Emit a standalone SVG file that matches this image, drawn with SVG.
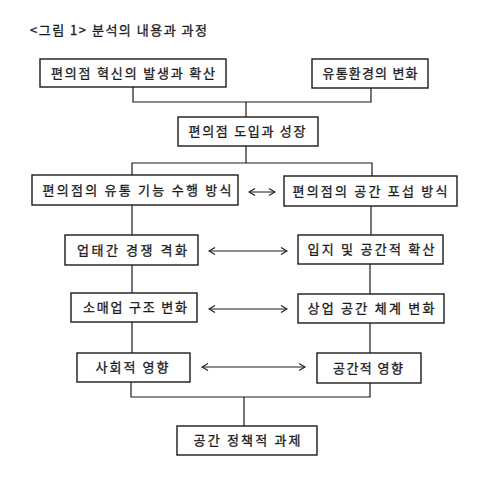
<svg xmlns="http://www.w3.org/2000/svg" width="480" height="490" viewBox="0 0 480 490">
<style>
  .box { fill: #fff; stroke: #1a1a1a; stroke-width: 1.4; }
  .lbl { font-family: "Noto Sans CJK KR", "Noto Sans", sans-serif; font-size: 13px; fill: #1a1a1a; stroke: #1a1a1a; stroke-width: 0.3; text-anchor: middle; }
  .title { font-family: "Noto Sans CJK KR", "Noto Sans", sans-serif; font-size: 13px; fill: #1a1a1a; stroke: #1a1a1a; stroke-width: 0.3; }
  .con { fill: none; stroke: #1a1a1a; stroke-width: 1.2; }
  .arr { fill: none; stroke: #1a1a1a; stroke-width: 1; marker-start: url(#chev); marker-end: url(#chev); }
</style>
<defs>
  <marker id="chev" viewBox="0 0 8 8" refX="7" refY="4" markerWidth="8" markerHeight="8" markerUnits="userSpaceOnUse" orient="auto-start-reverse">
    <path d="M1,0.5 L7,4 L1,7.5" fill="none" stroke="#1a1a1a" stroke-width="1.1"/>
  </marker>
</defs>
<rect width="480" height="490" fill="#fff"/>
<text class="title" x="30" y="35" textLength="177" lengthAdjust="spacing">&lt;그림 1&gt; 분석의 내용과 과정</text>

<g id="connectors">
  <polyline class="con" points="133,87 133,102 371,102 371,88"/>
  <line class="con" x1="246" y1="102" x2="246" y2="117"/>
  <line class="con" x1="246" y1="146" x2="246" y2="163"/>
  <polyline class="con" points="132,175 132,163 372,163 372,176"/>
  <line class="con" x1="132" y1="205" x2="132" y2="235"/>
  <line class="con" x1="371" y1="206" x2="371" y2="235"/>
  <line class="con" x1="132" y1="265" x2="132" y2="293"/>
  <line class="con" x1="370" y1="264" x2="370" y2="294"/>
  <line class="con" x1="132" y1="322" x2="132" y2="353"/>
  <line class="con" x1="370" y1="323" x2="370" y2="353"/>
  <polyline class="con" points="131,382 131,397 370,397 370,383"/>
  <line class="con" x1="244" y1="397" x2="244" y2="426"/>
  <line class="arr" x1="249" y1="192" x2="275" y2="192"/>
  <line class="arr" x1="209" y1="251" x2="287" y2="251"/>
  <line class="arr" x1="209" y1="309" x2="287" y2="309"/>
  <line class="arr" x1="202" y1="367" x2="305" y2="367"/>
</g>

<g id="n1"><rect class="box" x="40" y="59" width="186" height="28"/><text class="lbl" x="133" y="78" textLength="164" lengthAdjust="spacing">편의점 혁신의 발생과 확산</text></g>
<g id="n2"><rect class="box" x="312" y="59" width="116" height="29"/><text class="lbl" x="370" y="78" textLength="95" lengthAdjust="spacing">유통환경의 변화</text></g>
<g id="n3"><rect class="box" x="178" y="117" width="140" height="29"/><text class="lbl" x="247" y="136" textLength="117" lengthAdjust="spacing">편의점 도입과 성장</text></g>
<g id="n4"><rect class="box" x="32" y="175" width="206" height="30"/><text class="lbl" x="137" y="195" textLength="189" lengthAdjust="spacing">편의점의 유통 기능 수행 방식</text></g>
<g id="n5"><rect class="box" x="284" y="176" width="173" height="30"/><text class="lbl" x="370" y="196" textLength="155" lengthAdjust="spacing">편의점의 공간 포섭 방식</text></g>
<g id="n6"><rect class="box" x="65" y="235" width="133" height="30"/><text class="lbl" x="132" y="255" textLength="110" lengthAdjust="spacing">업태간 경쟁  격화</text></g>
<g id="n7"><rect class="box" x="298" y="235" width="145" height="29"/><text class="lbl" x="371" y="254" textLength="127" lengthAdjust="spacing">입지 및 공간적 확산</text></g>
<g id="n8"><rect class="box" x="71" y="293" width="126" height="29"/><text class="lbl" x="135" y="312" textLength="104" lengthAdjust="spacing">소매업 구조 변화</text></g>
<g id="n9"><rect class="box" x="298" y="294" width="146" height="29"/><text class="lbl" x="371" y="313" textLength="127" lengthAdjust="spacing">상업 공간 체계 변화</text></g>
<g id="n10"><rect class="box" x="77" y="353" width="113" height="29"/><text class="lbl" x="132" y="372" textLength="73" lengthAdjust="spacing">사회적 영향</text></g>
<g id="n11"><rect class="box" x="317" y="353" width="104" height="30"/><text class="lbl" x="368" y="373" textLength="70" lengthAdjust="spacing">공간적 영향</text></g>
<g id="n12"><rect class="box" x="177" y="426" width="140" height="29"/><text class="lbl" x="247" y="445" textLength="107" lengthAdjust="spacing">공간 정책적 과제</text></g>
</svg>
